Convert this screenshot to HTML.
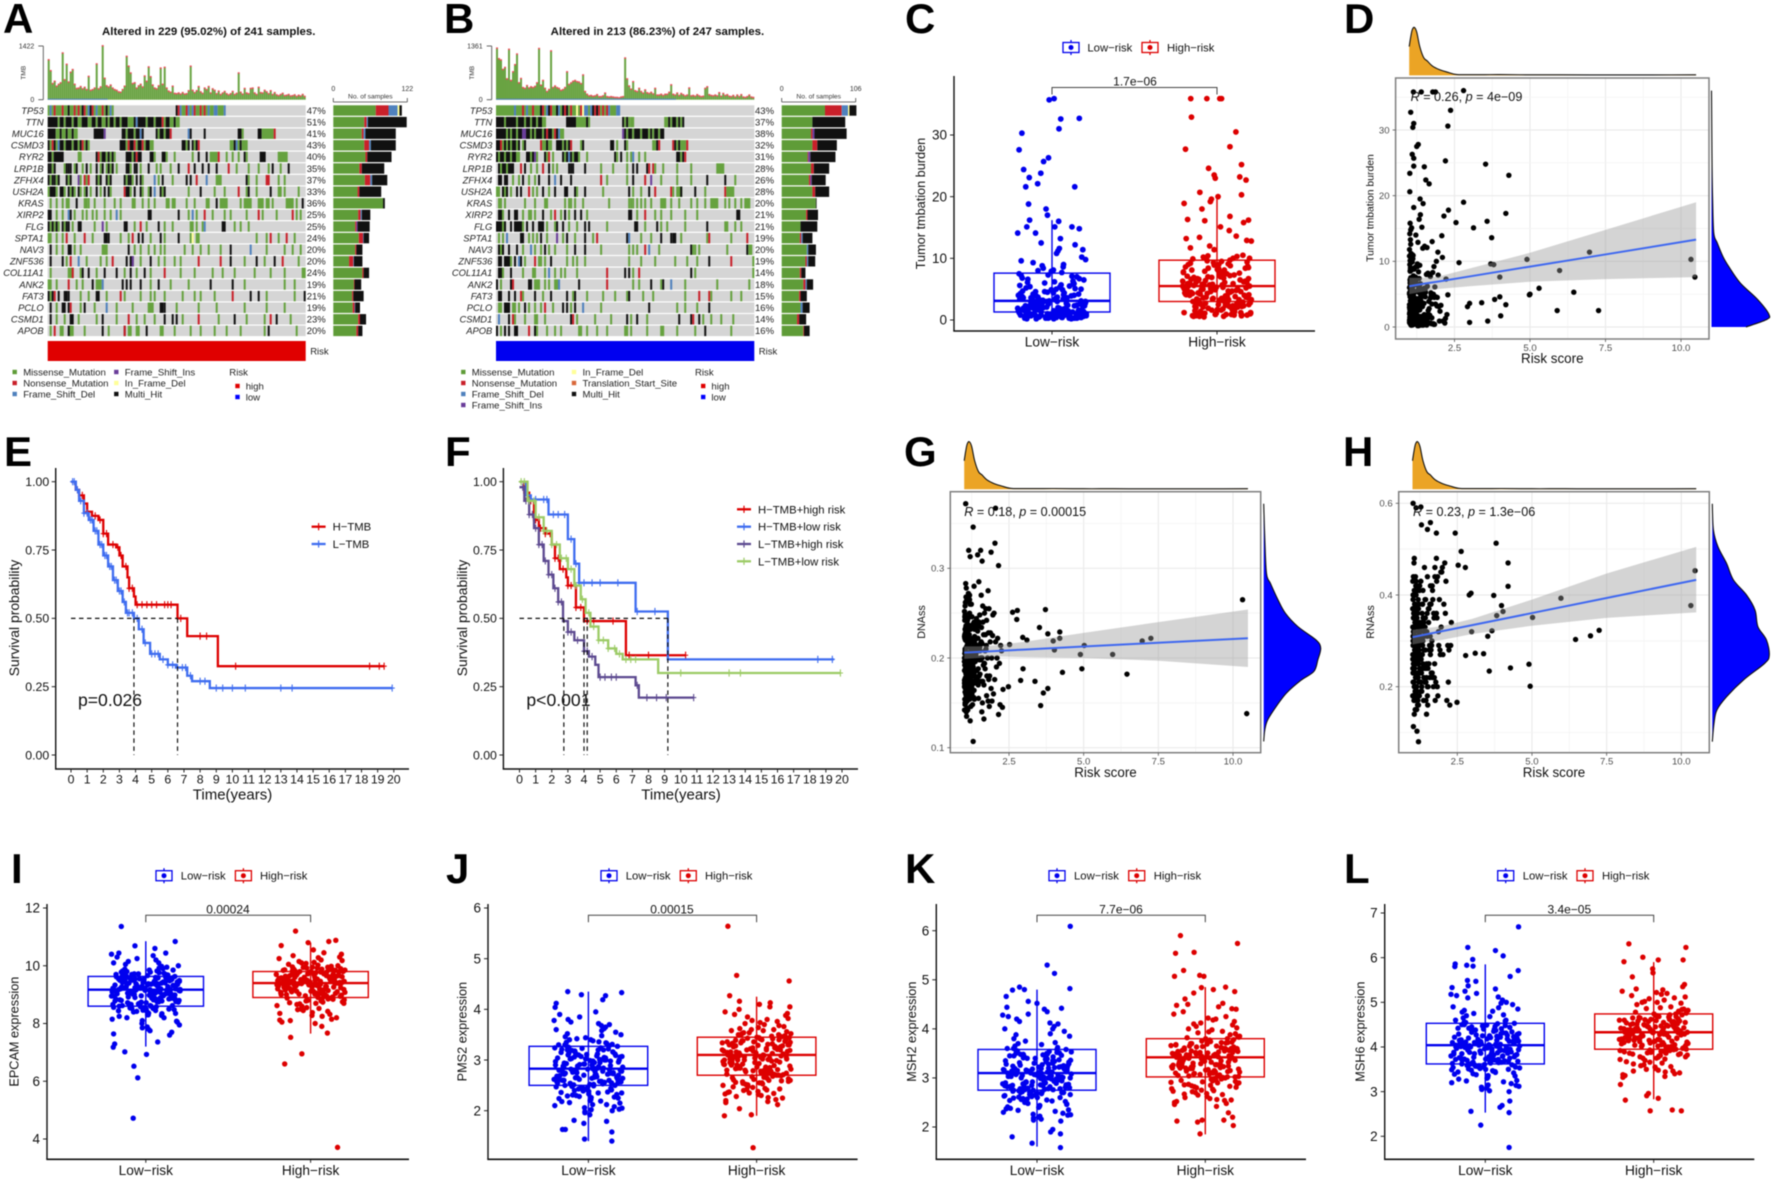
<!DOCTYPE html>
<html lang="en">
<head>
<meta charset="utf-8">
<title>Tumor mutation burden and risk score figure</title>
<style>
html,body{margin:0;padding:0;background:#fff;}
body{width:1772px;height:1180px;overflow:hidden;}
svg{display:block;font-family:"Liberation Sans",sans-serif;filter:blur(.45px);}
.letter{font-weight:bold;font-size:42px;fill:#000;}
.onco-title{font-weight:bold;font-size:10.8px;fill:#111;}
</style>
</head>
<body>
<svg id="figure" xmlns="http://www.w3.org/2000/svg" width="1772" height="1180" viewBox="0 0 1772 1180">
<rect x="0" y="0" width="1772" height="1180" fill="#fff"/>
<text class="letter" x="3" y="33">A</text>
<text class="letter" x="444" y="33">B</text>
<text class="letter" x="905" y="33">C</text>
<text class="letter" x="1344" y="33">D</text>
<text class="letter" x="4" y="466">E</text>
<text class="letter" x="445" y="466">F</text>
<text class="letter" x="904" y="466">G</text>
<text class="letter" x="1343" y="466">H</text>
<text class="letter" x="11" y="883">I</text>
<text class="letter" x="446" y="883">J</text>
<text class="letter" x="905" y="883">K</text>
<text class="letter" x="1344" y="883">L</text>
<text class="onco-title" x="102" y="35" textLength="213.5" lengthAdjust="spacingAndGlyphs">Altered in 229 (95.02%) of 241 samples.</text>
<text class="onco-title" x="550.7" y="35" textLength="213.5" lengthAdjust="spacingAndGlyphs">Altered in 213 (86.23%) of 247 samples.</text>
</svg>
<script>
/* ---------- oncoplot data ---------- */
const geneNamesA=["TP53","TTN","MUC16","CSMD3","RYR2","LRP1B","ZFHX4","USH2A","KRAS","XIRP2","FLG","SPTA1","NAV3","ZNF536","COL11A1","ANK2","FAT3","PCLO","CSMD1","APOB"];
const genePercentA=[47,51,41,43,40,35,37,33,36,25,25,24,20,20,24,19,21,19,23,20];
const genePercentB=[43,37,38,32,31,28,26,28,20,21,21,19,20,19,14,18,15,16,14,16];
const sideCountsA=[[70,21,15,0,3,4],[51,4,2,0,0,64],[47,3,3,0,0,50],[51,8,3,0,0,41],[53,3,0,0,0,40],[43,4,0,0,0,37],[52,9,3,0,0,25],[40,3,0,0,0,36],[82,0,0,0,0,3],[41,4,2,0,0,14],[36,2,0,2,0,20],[42,7,1,0,0,9],[36,2,0,0,0,10],[26,7,1,0,0,14],[48,2,0,0,0,9],[34,1,0,0,0,11],[31,2,0,0,0,17],[32,3,1,0,0,8],[41,3,0,0,0,10],[38,3,0,0,0,7]];
const sideCountsB=[[62,24,9,0,2,10],[44,0,0,0,0,47],[42,2,0,3,0,46],[44,7,0,0,0,28],[37,1,0,3,0,36],[42,4,0,0,0,22],[39,2,0,2,0,20],[44,4,0,0,0,20],[49,0,0,0,0,1],[35,2,0,0,0,15],[27,0,0,0,0,24],[26,2,2,0,0,14],[36,0,2,0,0,11],[34,2,2,0,0,10],[26,2,0,0,0,6],[31,3,2,0,0,9],[25,2,0,0,0,9],[27,0,3,0,0,10],[22,3,0,0,0,10],[31,1,0,0,0,8]];
const tmbA=[1050,760,420,480,350,400,440,1230,520,930,460,720,790,400,290,300,340,280,320,260,610,240,260,300,940,280,330,1420,560,360,330,380,300,260,240,200,190,260,350,1140,880,700,420,440,300,360,400,330,620,480,860,600,380,300,280,360,830,400,850,300,220,190,350,160,150,170,140,180,140,150,230,880,240,180,230,340,200,160,300,260,340,170,280,240,150,220,130,170,210,150,120,150,210,130,160,700,190,140,290,170,150,290,300,170,130,320,180,170,240,200,150,230,130,180,120,100,130,160,100,110,130,90,100,120,80,110,90,130,80];
const tmbB=[1300,1030,1000,760,810,520,1270,480,700,880,1150,420,530,300,280,350,290,320,300,330,420,1290,360,480,280,200,250,1230,300,340,300,280,230,250,300,700,380,420,460,480,450,440,400,620,200,130,90,100,80,90,120,70,70,90,160,70,60,70,60,50,50,40,60,70,1050,520,340,260,450,220,200,280,200,160,240,170,150,180,140,280,110,110,130,100,130,130,180,370,130,110,160,100,150,120,90,110,290,90,100,80,120,90,70,80,280,320,120,100,90,110,90,170,80,150,100,120,80,70,100,60,110,70,120,60,50,70,110,60,50];
/* mutation rows: run-length rows (letter = class, number = run of sample columns, "." = none), or "@" rows listing class + start column (":width" optional) */
const mutationRowsA=[
"m1f1m1n1m3n1m2x1m2n1m1n1m1x1n1m1f1x1n1m1f1m2n1m1x1m1f1m1.31x1n1f1m2n1f1m1f1n1m2n1m1n1m1f1m2f2m3f1",
"x5m1x2m1x3m1x2m2x3m2x2m1x2m2x1m1x2m1x2m1x3m3x1f1x4m1x3m1x3n1m1x2m2x1m2",
"x4m2x1m2x1m2x1m2.8x5i1.8x2m1x3m1x2f1x1.6x1m1x2m1x2n1.8f1x1.6x1.16x2m1.7x2m6n1",
"x1m1n1x1m1f1x2m1x3m1x2m1x1n1m1x1m1.15x3m1n1x2n1m1x2n1m1x2m2.14x2m1x1.1x1m1x1n1.15m2x1f1m1x1m3",
"x2m1x5.7m2.7x1n1m1x2m1x1m1x1m1.5x3m1x1n1x2.4x2m1.3x2m1.3m1.1.7m1.2x1.3x1.1m4n1.3m1.2m1.2m1.2x1m1.6x3.6m5",
"@x0 x1 m2 x3 m8 x9 x10 x11 m13 x14 m17 x19 m21 x24 m26 x27 m29 x30 m31 x32 m34 x39:2 m41 x43 x44 m46 x50 m54 m56 m61 x65 n70 x73 x77 x80 x84 n90 m94 m100 m105 m110 x112 m116 x120",
"@x0 m1 x2 x3 m4 x5 x9 m10 x11 i15 m16 n18 m19 n20 x24 m25 x26 x29 m30 x31 x38 m39 x40 x41 m42 x44 x46 m47 f53 m55 x57 m62 x69 x71 n74 f79 m84:3 x99 m100 m104 n109:2 m115 m118",
"@m0 x1:3 m4 x6:2 m8 x10 m11 x12 m13 x15 m16 m18 x19 m21 x24 m26 x28 x30 m31 n38 x39:2 m41 x43 x46 m47 m50 x51 f53 x56 m57 x58 m70 x76 m83 m88 n95 m99 x100 m104 x111 m115:2 m118 m125",
"@m1 m4 m7 m9:2 x14 m18:2 m20 m23 m28 m33 m36 m42:2 m47 m50 m53 m59:2 m62:2 m69 m73 m79:2 x84 m86:4 m96 m98:4 m105:3 m109:2 m112 m119:4 m124 x127",
"@x0:2 m4 m7 f10 x11 m13 m17 m19 m22 m24 m28 m31 f34 m36 x50:2 x65 m70 f72 m74 n78 m82 m88 m91 m99 n105 m107 m114 n122 m124 m126",
"@x0 m1 x2 m3 x4 m5 x7 m8 x9 x10 m12 x15:2 m23 i27 m29 x38:2 m43 n46 m49 x55 m58 m62 m71:2 m74 m77 f78 x87:2 m93 m96 m100",
"@m0:2 m4 m7 n9 m13 n18 m22 x28:2 x30 m36 m40 n42 x45 x47 m51 x56 m58 x65 m71 y72 m74:2 m104 m109 n111 m115 n119 m123",
"@x1 m4 m7 x10:2 m13 m16 m27:3 x40 m43 m46 m50 m53 m56 m58 m68 m72 m76 m80 m86 x91 f101 m109 m118 m122 m126",
"@x1 x7 m9 n11 f15 m19 m26 m29 n32 x39 x41:2 i42 m46 x51 m55 m58 m63 m66 n75 n86 x91 m98 x104 m108 x113 n117 m125",
"@m1 m10:3 n12 m16 x17 x20 m24 x28 x34 m38 x41 m44 x48 m51 n58 m66 m73 m82 m87 m93 m103 m111 m118 m127:2",
"@m0:2 m4 n10 m14 m17 x22 m24:3 f27 x37 x39 x41 x46 m51 x55 m61 m70 x81 x92 m98 m118 m123",
"@x0 m1 x2 n3 x5 x8:2 x10 m16 m20 x24:2 m29 n36 m38 m46 m51 m53 m58 m67 m73 m76 m83 n92 x101 x105 m109 m123 x128",
"@x1 m4 x7:2 x10 n11 m16 x18 m23 f29 m34 m42 m50:3 x56:2 x58 m64 m75 m84 m98 m109 m118",
"@x1 m4 m8 x11:2 m15 m24 x27 m34 n40 m44 m48 m53 x58 x62 x64 m67 n75 m85 x93 m99 m108 n111 x114 m121",
"@m1 n3 m6:2 x10:2 m11:2 m18 x27 m30 x38 n38 m40:2 m44:2 x49 m56:2 m63 m71 m76 m83 m89 m96 m108 x110 m124"];
const mutationRowsB=[
"m9f1m3n1m1f1m2n1m3x1n1m1f1x1n1m2x1f1m1x1n1x1m1n1m2y1m1n1y1f2m1f1x1n1x1n1m1n1m1n1f1m3f2",
"x4m1x5m1x3m1x2m1x2m1x2m2.10x5m5x1m1.16x1m1x1m1m2.15m2x1m1x2m1x1m1x1",
"x5m1x1m1x2m1x2i2x2m1x1m1x3m1x1n1x2m1n1x1f1m2.29i1x1m1x2m1x3m1x3m1x1m1x2m1x2",
"x2n1m1x1m1x1m1x2m1x1.1m1x1.7n1m2x1m2.2x3m1x1m1x1n1.1.3m1x1.13x2.1m1.3x1m1.12m2x1n1.6n1x1m1x1m3n1",
"x1m1x2m1x2m1x2m2.3x2m1x1i1m1.3x1m1n1.1m1.4x1m1x1f1x1m1x2m1.3m1.13x1m1.1x1.2m1.1m1f1.2m1.2m1.15x2m1x1n1",
"@x1 m2 x3 x4 m5 x6 x7 x8 n12 x14 m17 m20 n23 x26 m28 m30 x36 x37 x38 x44 m52 m58 m65 x68 x70 x75 n76 n78 m79 m83 m90 m97 m110:4",
"@x1 x2 x4 x5 m8 m11 x13 m16 m19 x21 x26 f29 x32 x37 n52 m55 m65 x68 n74 i77 m82 m90 m97 x105 x114 m119",
"@m0 m1 x3 m4 x5 m7 x10 x12 n16 m18 m20 x23 m26 x29 x34:2 x39 m40 x44 m53 x66 m68 m72 x76 n79 n87 m88 m90:3 x92 x99 m104 n114 m115:4",
"@m1 m2 m4 m14 m19 m24:2 m34 m36 m37 m39 m43 m56 m66 m67 m68 m70 m72 m74 m77 m82:3 m87 m91 m97 m100 m104 m107:4 m114 m116 m119 m122 m124:3",
"@x1:2 m3 x6 x9 x10 m13 m16:2 m19 x23 m27 n29 m32 x34 m36 x39 x42 m45 x66:2 m70 n74 m79 m82 m87 m94 m100 x120:2",
"@x0:3 m3 x4 x7 x9:4 m13 x15 x18 x21:3 m25 m29 x30 x33 m36 m40 x44 x46 m55 x69:2 m74 x80 m82 m85 m94 x105 m114:2 m119 m122",
"@m1 m3 f5 x12:2 m16 m18 m20 x22 m25 i30 m33 x35 m39 x44 m48 n50 x65 f66 m72 m77 x82 x87 x88:2 m92 m105 n106 m117 n125",
"@x1 m2 x3 x6 x10 m13 f17 m19 m22 x24 m26 m29 m35 x39 x44 m52 m66 m68 m70 n74 f76 m81 x97 m98 m99 m101 m115 x125 m126:2",
"@x1 x2 x4:3 m7 x9 f11 x12 m14 n19 m21 m22 m24 x27 m35 m38 m40 m44 m66 m72 m79 m89 m95 m100 x106 n117 m128",
"@x1:2 m3 x7 m13 m18:2 m24 f26 m29 m32 m34 m40 n55 x64 x66 m68 n71 x97 m99 m128",
"@x0 m2 x7 n8 x16 x17 m19:3 m24 m26 m29:2 f31 x41 n55 m68 m71 x77 m82 x83 f87 m94 m110 m126",
"@x1:2 x6 x9 n12 m13 x19 m23 x27 x35 m38 x39 m45 m53 m59 m65 x66 m73 m78 m94 n101 n106 m107 m117 m122",
"@m1 m2 x4:3 m8:2 m11 x14 m16 m19 m22 n24 m28 x33 x35 m37 x39 f43 m52 x76 m90 m94 m100 x106",
"@f1 x6 n8 m9 m14 m19:2 m24 x37 n38 m40 m49 m57 x65 m67 x70 m75 x91 x97 n98 x101 m103 m107 m112 m118",
"@x0 m2 x4 x6 x9:2 n16 x19 m20 m25 m29 m32 m41:2 m45 m50 m55 m64:2 m67 m75 m82:2 m90 m99 x104 m117"];

/* ---------- box + jitter data ---------- */
const jitterFractions=[.12,-.67,.83,-.31,.45,-.92,.05,.71,-.54,.28,-.13,.96,-.78,.37,.6,-.42,-.05,.88,-.25,.52,-.85,.19,.66,-.6,-.1,.33,.93,-.47,-.72,.08,.57,-.98,.24,-.35,.78,.41,-.18,-.82,.63,.01,-.56,.9,.3,-.28,-.7,.49,.15,-.94,.74,-.39,.22,-.63,.85,-.08,.55,-.5,-.21,.98,-.76,.35,.1,-.88,.68,-.33,.46,-.02,-.58,.81,.26,-.45,-.96,.59,.17,-.69,.38,-.15,.91,-.52,.04,.7,-.84,.29,-.26,.5,-.74,.13,.64,-.4,.86,-.11,-.6,.43,-.9,.21,.76,-.37,.07,.95,-.66,.32,-.48];
const cLowValues=[.5,1.2,3.1,.8,2.4,5.6,1.5,.3,4.2,7.7,1,2.9,.6,3.4,6.3,1.7,.9,2.2,8.4,.4,3.8,1.3,5.1,.7,2.6,9,1.1,4.6,.2,3.3,7.1,1.9,.8,2.8,6.7,1.4,.5,3.6,5.9,1,2,.6,4.9,8.8,1.6,.3,3,7.5,1.2,2.5,.9,5.4,10.2,.4,3.9,1.8,6,.7,2.3,4.4,1.1,9.6,.5,3.2,1.5,7.9,.8,2.7,5.7,.2,4,1.3,11.2,.6,3.5,2.1,6.5,1,8.1,.4,4.7,1.7,2.9,.9,5.2,10.8,.3,3.7,1.2,7.3,.7,2.4,4.3,11.6,1.6,.5,6.2,3,1.9,8.6,.8,5,2.2,.4,12.5,1.4,3.4,.6,7,2.6,1,4.5,9.8,.3,1.8,5.8,3.1,.9,11.4,2,.5,6.8,1.3,12.2,3.6,.7,4.1,2.3,14.1,15.1,15.1,15.1,14.1,13.2,.6,1.1,2.7,.3,1.9,4,.8,3.3,1.4,.5,2.2,6.1,.9,3.7,1.2,.4,2.9,5.3,.7,1.6,3.1,.2,2.4,4.6,1,.6,1.8,3.5,7.2,.4,2.1,1.3,4.9,.8,2.6,.5,3.9,1.5,.3,2,6.6,1.1,3,.7,2.5,4.4,.9,1.7,.4,3.2,5.5,1.2,.6,2.3,8,1.4,.3,2.8,3.6,.8,1.9,4.2,.5,1,2.7,.7,3.4,1.6,.4,2.1,5,1.3,.9,3.8,.2,2.4,9.3,1.1,.6,3,1.5,.8];
const cLowOutliers=[[-.08,35.7],[.06,35.9],[.25,32.6],[.78,32.7],[.2,31],[-.86,30.3],[-.94,27.6],[-.1,26.3],[-.24,25.7],[-.81,24.4],[-.32,23.8],[-.65,23.1],[-.41,22.1],[-.75,21.6],[.65,21.6],[-.67,18.8],[-.17,18],[-.13,17],[-.64,16.2],[.19,16],[.78,14.8]];
const cHighValues=[5.5,3.1,8.2,1,6.7,2.4,9.6,4.3,.8,7.4,5.1,2.9,10.2,3.6,1.5,6.1,8.9,4.8,.6,5.7,3.3,9.2,2.2,7,4.1,1.2,6.4,10,5.3,2.7,8.4,3.9,.9,7.8,5,1.8,9.9,4.5,6.9,2.5,3.2,8,.7,5.9,4,10.4,1.4,6.6,3.5,7.6,2.1,9.4,5.2,1,4.7,8.6,3,6.2,.5,7.2,2.8,5.6,9.1,4.2,1.6,6.8,3.7,10.1,2.3,5.4,8.3,.8,4.4,7.5,3.4,1.1,6,9.7,2.6,5.8,4.9,8.7,1.9,3.8,7.1,.6,6.5,2,9.3,4.6,5.5,1.3,8.1,3.1,10.3,6.3,2.4,7.9,4,.9,5.1,9,3.3,1.7,6.7,8.5,2.9,4.3,.7,7.3,5.7,1.2,10.5,3.6,6.1,2.2,12.9,11.4,13.6,13.4,12,12.8,11.7,14.5,15.1,13.2,4.6,2.7,5.9,1.1,3.4,6.3,.9,4.9,7.7,2.1,5.3,3,8.8,1.6,4.1,6.6,2.5,.7,5.6,3.8,7,1.3,4.5,9.5,2.9,5,.8,3.5,6.1,1.8,4.2,8.1,2.3,5.7,3.2,1,6.9,4.7,2.6,7.4,.6,5.2,3.7,1.5,4.4,9,2.2,6.4,3.1,5.8,1.2,4,7.2,2.8,5.4,.9,3.6,8.4,1.9,4.8,6.8,2.4,.7,5.1,3.3,10,1.4,4.3,7.8,2.7,5.5,3.9,1.1,6.2,2,4.6];
const cHighOutliers=[[-.75,35.9],[-.29,35.9],[.08,35.9],[.13,35.9],[-.73,32.9],[.54,30.5],[-.9,27.7],[.37,28.1],[.7,25.2],[-.24,24.6],[-.08,23.5],[.65,23.2],[.83,22.7],[-.05,23],[.7,20.3],[-.49,20.7],[.03,20],[-.94,18.9],[-.19,19.2],[-.16,19.6],[-.43,18],[.37,16.8],[-.84,16.3],[-.35,16.1],[.9,16.2],[.76,15.8]];
const iLowValues=[9.17,8.62,9.63,8.9,9.4,10.1,8.3,9.05,9.8,8.45,9.25,7.95,9.55,8.75,9.95,9.1,8.55,9.35,10.25,8.2,9.7,9,8.85,9.5,8.1,9.3,10,8.65,9.2,7.8,9.6,8.95,9.45,8.4,9.85,9.08,8.7,10.3,9.28,8.5,9.65,8.05,9.12,9.38,8.8,9.9,8.6,9.22,7.7,9.52,8.92,9.75,8.35,9.42,9.02,10.15,8.68,9.18,8.25,9.58,8.98,9.33,7.6,9.72,8.78,9.15,10.05,8.48,9.48,9.06,8.15,9.68,8.88,9.26,9.92,8.58,9.36,8.72,7.88,9.56,9.1,10.2,8.42,9.44,8.82,9.78,9.04,8.52,9.3,8,9.62,9.2,8.94,10.35,8.62,9.5,8.3,9.14,9.82,8.76,9.4,7.75,9.66,8.86,9.24,9.98,8.56,9.34,9,8.2,9.6,8.96,9.46,8.44,10.1,9.16,8.66,9.54,8.08,9.28,9.74,8.84,9.08,8.5,9.88,7.85,9.38,8.74,9.58,9.22,8.36,9.7,10.4,8.9,9.12,9.32,8.88,9.55,9.03,9.68,8.72,9.27,9.44,8.58,9.16,9.78,8.98,9.36,8.66,9.52,9.07,8.82,9.6,9.2,8.46,9.41,8.92,9.72,9.13,8.6,9.3,9.85,8.78,9.48,9.01,8.34,9.22,9.64,8.86,9.37,8.54,9.1,9.56,8.94,9.26,9.76,8.7,9.43,9.05,8.4,9.18,9.62,8.84,9.33,8.96,9.5,8.62,9.09,9.7,8.76,9.29,9.46,8.9,9.15,8.52,9.58,9.02,9.38,8.8,9.24,9.82,8.68,9.12,9.42,8.99,9.54,8.28,9.2,9.66,8.87,9.35,9.06,8.74,9.49,9.17];
const iLowOutliers=[[-.7,11.36],[.84,10.84],[-.31,10.69],[.26,10.6],[-.77,10.44],[.57,10.44],[-.92,7.64],[-.89,7.29],[-.93,7.18],[.34,7.36],[-.6,7.02],[.02,6.93],[-.34,6.52],[-.23,6.12],[-.36,4.72]];
const iHighValues=[9.4,8.92,9.8,9.15,9.62,10.2,8.5,9.3,9.95,8.7,9.48,8.2,9.72,9,10.05,9.35,8.8,9.55,10.35,8.45,9.85,9.25,9.08,9.68,8.35,9.5,10.15,8.95,9.42,8.1,9.78,9.2,9.6,8.62,9.98,9.32,9,10.45,9.52,8.75,9.82,8.28,9.38,9.58,9.05,10.1,8.85,9.45,8,9.7,9.12,9.9,8.55,9.65,9.28,10.25,8.9,9.4,8.48,9.75,9.18,9.56,7.9,9.88,9.02,9.36,10.3,8.68,9.66,9.3,8.38,9.84,9.1,9.46,10.08,8.82,9.54,8.98,8.15,9.74,9.34,10.4,8.6,9.62,9.06,9.92,9.26,8.72,9.5,8.25,9.8,9.42,9.16,10.55,8.88,9.7,8.52,9.38,10,9,9.6,8.05,9.86,9.12,9.44,10.18,8.78,9.52,9.22,8.42,9.76,9.2,9.64,8.66,10.28,9.4,8.94,9.72,8.32,9.48,9.94,9.08,9.3,8.74,10.12,8.12,9.58,9.02,9.78,9.44,9.46,9.66,9.2,9.83,9.34,9.9,9.05,9.58,9.72,8.96,9.43,9.96,9.26,9.62,9,9.78,9.38,9.14,9.86,9.5,8.84,9.68,9.24,9.92,9.4,8.94,9.56,10.02,9.1,9.74,9.32,8.7,9.48,9.88,9.18,9.6,8.88,9.42,9.8,9.28,9.52,9.95,9.04,9.7,9.36,8.78,9.46,9.84,9.16,9.58,9.3,9.76,8.98,9.4,9.9,9.08,9.54,9.67,9.22,9.44,8.86,9.82,9.34,9.64,9.12,9.5];
const iHighOutliers=[[-.43,11.2],[-.07,10.8],[-.84,10.7],[.72,10.88],[.52,10.84],[-.57,7.52],[-.25,6.95],[-.74,6.6],[.77,3.71],[.48,7.67]];
const jLowValues=[2.83,2.5,3.27,2.65,3.05,3.6,2.2,2.75,3.4,2.35,2.92,2.05,3.15,2.58,3.7,2.8,2.42,3,3.85,2.12,3.3,2.7,2.55,3.2,1.98,2.95,3.5,2.48,2.88,2.02,3.22,2.62,3.08,2.3,3.55,2.78,2.45,3.9,2.98,2.38,3.25,2.15,2.85,3.1,2.6,3.65,2.52,2.9,2.08,3.18,2.68,3.35,2.25,3.02,2.72,3.75,2.46,2.86,2.18,3.24,2.64,3.04,2,3.42,2.56,2.82,3.8,2.32,3.12,2.76,2.1,3.28,2.66,2.94,3.58,2.44,3.06,2.54,1.92,3.16,2.8,3.72,2.28,3,2.6,3.38,2.74,2.4,2.96,2.06,3.26,2.84,2.68,3.95,2.5,3.14,2.22,2.78,3.46,2.58,3.03,2.12,3.3,2.63,2.88,3.62,2.47,2.99,2.73,2.16,3.2,2.7,3.07,2.36,3.68,2.81,2.51,3.11,2.03,2.91,3.33,2.61,2.77,2.41,3.52,1.96,3.01,2.57,3.19,2.87,2.26,3.29,3.78,2.67,2.79,3.09,2.53,3.23,2.69,2.89,2.33,3.13,2.59,3.36,2.43,2.85,3.04,2.49,2.97,2.27,3.17,2.71,2.93,2.56,3.44,2.37,2.82,3.07,2.64,3.21,2.19,2.9,2.55,3.31,2.75,3,2.46,3.1,2.66,2.84,2.31,3.24,2.6,2.95,2.72,3.48,2.39,2.8,3.02,2.52,3.16,2.24,2.87,2.62,3.34,2.77,2.98,2.44,3.06,2.7,2.92,2.29,3.2,2.57,2.83,3.12,2.65,3.4,2.35,2.74,3.01,2.5,2.86];
const jLowOutliers=[[-.59,4.35],[-.2,4.29],[.49,4.27],[.95,4.33],[.41,4.19],[-.92,4.12],[-.95,4.04],[-.66,1.63],[-.74,1.63],[-.11,1.44],[.67,1.4],[.67,1.58],[.52,1.79],[-.13,1.75],[-.41,1.81]];
const jHighValues=[3.1,2.7,3.45,2.9,3.3,3.8,2.42,3,3.6,2.55,3.18,2.25,3.38,2.8,3.9,3.05,2.62,3.25,4,2.35,3.52,2.95,2.75,3.42,2.2,3.2,3.72,2.68,3.14,2.28,3.48,2.86,3.34,2.5,3.76,3.02,2.65,4.05,3.22,2.58,3.5,2.38,3.08,3.36,2.82,3.85,2.72,3.16,2.3,3.4,2.92,3.56,2.46,3.28,2.98,3.95,2.66,3.12,2.4,3.44,2.88,3.26,2.18,3.62,2.78,3.06,3.88,2.52,3.32,3,2.32,3.46,2.84,3.2,3.78,2.6,3.3,2.76,2.12,3.38,3.04,3.92,2.48,3.24,2.8,3.58,2.96,2.56,3.18,2.26,3.44,3.1,2.9,4.1,2.7,3.34,2.44,3,3.66,2.78,3.22,2.36,3.5,2.86,3.12,3.82,2.64,3.2,2.94,2.34,3.4,2.92,3.28,2.54,3.7,3.06,2.74,3.36,2.22,3.14,3.54,2.82,3.02,2.6,3.74,2.16,3.26,2.8,3.42,3.08,3.16,3.37,2.73,3.5,2.97,3.21,2.53,3.33,2.85,3.6,2.63,3.07,3.29,2.69,3.15,2.41,3.43,2.89,3.11,2.75,3.68,2.57,3.02,3.24,2.83,3.47,2.33,3.09,2.71,3.54,2.93,3.19,2.61,3.31,2.87,3.05,2.47,3.4,2.77,3.13,2.91,3.64,2.59,3,3.23,2.67,3.35,2.37,3.04,2.81,3.52,2.95,3.17,2.51,3.27,2.72,3.1,2.43,3.39,2.79,3.01,3.3,2.84,3.58,2.55,2.99,3.2,2.68,3.06];
const jHighOutliers=[[-.82,5.64],[-.57,4.67],[.93,4.56],[-.77,4.27],[.39,4.13],[-.49,4.16],[-.1,1.27],[-.92,1.9],[-.15,1.92],[-.49,2.04],[.95,4.05]];
const kLowValues=[3.1,2.75,3.58,2.92,3.35,4,2.4,3.02,3.7,2.55,3.18,2.25,3.45,2.82,4.1,3.05,2.65,3.25,4.3,2.32,3.6,2.95,2.78,3.5,2.18,3.2,3.85,2.7,3.14,2.22,3.52,2.88,3.38,2.5,3.95,3.04,2.68,4.25,3.22,2.6,3.55,2.35,3.12,3.4,2.85,4.05,2.72,3.16,2.28,3.48,2.9,3.65,2.46,3.3,2.98,4.15,2.66,3.08,2.38,3.54,2.86,3.28,2.12,3.75,2.76,3.06,4.2,2.52,3.42,3,2.3,3.62,2.84,3.24,3.9,2.62,3.32,2.74,2.2,3.46,3.1,4.35,2.48,3.34,2.8,3.68,2.96,2.58,3.2,2.26,3.56,3.12,2.9,4.4,2.7,3.44,2.42,3,3.8,2.78,3.26,2.16,3.6,2.86,3.16,4,2.64,3.22,2.94,2.34,3.5,2.92,3.36,2.54,4.12,3.06,2.72,3.4,2.24,3.14,3.72,2.82,3.02,2.6,3.88,2.14,3.28,2.8,3.48,3.08,2.44,3.58,4.28,2.9,2.76,3.18,2.98,3.1,3.03,3.37,2.69,3.15,2.87,3.49,2.57,3.11,2.93,3.27,2.63,3.01,3.41,2.77,3.19,2.47,3.07,2.89,3.31,2.71,3.53,2.83,3.13,2.99,2.37,3.23,2.91,3.43,2.67,3.09,2.81,3.33,2.56,3.17,2.97,3.47,2.73,3.05,2.85,3.29,2.61,3.11,2.95,2.41,3.39,2.79,3.21,3.03,2.68,3.51,2.88,3.15,2.75,3.07,2.53,3.35,2.93,3.25,2.83,3.09,2.66,3.45,3,2.78,3.19,2.59,3.13,2.91,3.3,2.84,3.04,2.7];
const kLowOutliers=[[.95,6.09],[.29,5.3],[.5,5.13],[.94,4.82],[-.5,4.85],[-.7,4.79],[-.36,4.8],[-.88,4.66],[-.86,4.44],[-.71,1.8],[-.14,1.67],[.67,1.58],[.67,1.86],[.45,1.95],[.39,1.9],[.7,4.42],[-.25,4.56],[0,4.52]];
const kHighValues=[3.42,3.02,3.8,3.2,3.6,4.2,2.7,3.3,3.95,2.85,3.5,2.55,3.7,3.1,4.35,3.36,2.92,3.55,4.5,2.65,3.85,3.25,3.05,3.75,2.5,3.45,4.1,2.98,3.4,2.6,3.78,3.15,3.65,2.78,4.25,3.32,2.95,4.45,3.52,2.88,3.82,2.68,3.38,3.68,3.12,4.05,3,3.46,2.58,3.72,3.22,3.9,2.75,3.58,3.28,4.3,2.94,3.42,2.72,3.76,3.18,3.56,2.42,4,3.08,3.34,4.15,2.82,3.62,3.26,2.62,3.88,3.14,3.48,4.12,2.9,3.54,3.04,2.48,3.7,3.38,4.4,2.8,3.6,3.1,3.98,3.24,2.86,3.44,2.56,3.84,3.4,3.2,4.22,3,3.66,2.74,3.3,4.08,3.06,3.5,2.52,3.8,3.16,3.42,4.02,2.96,3.52,3.22,2.66,3.74,3.2,3.6,2.84,4.18,3.36,3.02,3.64,2.54,3.44,3.92,3.12,3.28,2.9,3.94,2.46,3.56,3.08,3.72,3.34,3.41,3.63,3.11,3.47,3.23,3.71,2.97,3.37,3.53,3.07,3.59,3.17,3.43,2.83,3.67,3.27,3.49,3.01,3.33,3.77,3.13,3.55,2.93,3.39,3.61,3.21,3.45,2.77,3.73,3.19,3.51,3.03,3.31,3.65,2.87,3.41,3.25,3.57,3.09,3.35,2.73,3.69,3.15,3.47,2.99,3.29,3.83,3.05,3.43,3.58,3.19,3.37,2.81,3.63,3.23,3.49,3.11,3.32,2.67,3.75,3.27,3.54,3.04,3.4,3.17,3.6,2.91,3.46,3.24,3.52];
const kHighOutliers=[[-.71,5.9],[.92,5.74],[-.85,5.54],[-.32,5.56],[-.62,5.19],[-.88,5.07],[-.16,5.09],[-.04,5.07],[-.11,4.84],[.58,4.85],[.84,4.76],[-.33,4.73],[.23,4.8],[-.58,4.61],[-.82,4.48],[.5,4.52],[.76,4.41],[-.15,1.86],[-.81,2.12],[-.22,2.1],[-.09,2.14],[.53,2.14],[.8,2.03],[.78,2.2],[.66,2.29]];
const lLowValues=[4.04,3.62,4.53,3.85,4.3,4.9,3.3,3.95,4.7,3.45,4.12,3.12,4.42,3.72,5,4,3.55,4.2,5.2,3.22,4.6,3.9,3.68,4.5,3.05,4.15,4.85,3.6,4.08,3.15,4.48,3.8,4.35,3.4,4.95,3.98,3.58,5.15,4.18,3.5,4.55,3.25,4.06,4.38,3.75,5.05,3.64,4.1,3.18,4.45,3.82,4.65,3.35,4.25,3.92,5.1,3.56,4.02,3.28,4.52,3.78,4.22,3,4.75,3.66,3.96,5.25,3.42,4.4,3.88,3.2,4.6,3.74,4.16,4.88,3.52,4.28,3.7,3.08,4.44,4.04,5.3,3.38,4.32,3.76,4.68,3.86,3.48,4.14,3.1,4.56,4.06,3.84,4.8,3.6,4.36,3.32,3.94,4.78,3.7,4.2,3.02,4.5,3.78,4.1,4.98,3.54,4.18,3.9,3.24,4.46,3.86,4.3,3.44,5.12,4,3.62,4.4,3.14,4.08,4.72,3.72,3.96,3.5,4.82,3.06,4.24,3.68,4.42,4.02,3.36,4.58,5.18,3.82,3.66,4.12,3.92,4.04,3.97,4.26,3.73,4.11,3.83,4.37,3.57,4.01,3.79,4.21,3.63,3.89,4.33,3.46,4.07,3.81,4.47,3.69,3.93,4.17,3.53,4.29,3.87,4.05,3.39,4.13,3.77,4.41,3.61,3.99,4.23,3.71,4.03,3.49,4.31,3.84,4.09,3.65,3.91,4.19,3.59,4.49,3.75,4,3.43,4.27,3.8,4.15,3.67,3.95,4.39,3.55,4.07,3.73,4.22,3.88,3.47,4.34,3.64,3.98,4.13,3.7,4.02,3.51,4.25,3.85,4.1,3.6,3.93];
const lLowOutliers=[[.95,6.69],[-.5,6.23],[.29,6.16],[.51,6.04],[-.36,5.96],[-.86,5.86],[-.87,5.8],[-.53,5.83],[-.35,5.81],[.94,5.71],[.71,5.58],[-.51,5.49],[-.27,5.47],[-.49,5.37],[-.95,5.33],[-.41,2.56],[.68,2.53],[-.13,2.25],[.68,1.75],[.42,2.65],[.48,2.69],[.7,2.79]];
const lHighValues=[4.33,3.95,4.74,4.15,4.55,5.05,3.6,4.25,4.9,3.8,4.42,3.42,4.65,4.05,5.15,4.3,3.88,4.48,5.3,3.5,4.82,4.2,4,4.7,3.38,4.4,5,3.92,4.35,3.46,4.72,4.1,4.58,3.72,5.1,4.28,3.86,5.2,4.45,3.78,4.78,3.55,4.32,4.6,4.06,5.02,3.98,4.38,3.48,4.68,4.12,4.85,3.66,4.52,4.22,5.25,3.9,4.36,3.58,4.7,4.08,4.5,3.34,4.95,4.02,4.28,5.35,3.75,4.62,4.18,3.52,4.8,4.04,4.42,5.08,3.82,4.54,3.96,3.4,4.66,4.34,5.4,3.7,4.56,4.1,4.88,4.2,3.84,4.4,3.44,4.76,4.36,4.14,5.22,3.94,4.6,3.64,4.26,4.98,4,4.46,3.36,4.74,4.12,4.38,5.12,3.9,4.5,4.18,3.56,4.68,4.16,4.58,3.78,5.18,4.3,3.98,4.62,3.46,4.4,4.86,4.08,4.24,3.86,5,3.32,4.52,4.04,4.72,4.32,3.62,4.84,5.28,4.2,3.92,4.44,4.16,4.33,4.27,4.57,4.03,4.41,4.13,4.63,3.89,4.29,4.49,4.01,4.37,3.77,4.53,4.19,4.43,3.93,4.31,4.67,4.09,4.47,3.85,4.23,4.59,4.11,4.35,3.73,4.51,4.17,4.39,3.97,4.25,4.71,4.07,4.45,3.83,4.21,4.55,4.15,4.33,3.67,4.49,4.05,4.37,3.91,4.29,4.61,4.13,4.41,3.81,4.19,4.65,4.09,4.31,3.95,4.43,4.23,3.75,4.57,4.17,4.35,4.01,4.27,4.47,3.87,4.21,4.39];
const lHighOutliers=[[-.71,6.31],[.92,6.23],[-.31,6.01],[.13,5.95],[.84,5.95],[-.85,5.91],[-.03,5.75],[-.02,5.66],[-.61,5.57],[-.1,2.57],[.53,2.59],[.79,2.57],[-.81,2.81],[.13,2.85],[-.95,3.16],[-.15,2.96],[-.2,2.91]];
/* box statistics: lower whisker, Q1, median, Q3, upper whisker */
const cLowBox=[0,1.3,3.1,7.6,16.2];
const cHighBox=[.5,3,5.5,9.7,19.6];
const iLowBox=[7.2,8.6,9.17,9.63,10.85];
const iHighBox=[7.65,8.9,9.4,9.8,10.8];
const jLowBox=[1.4,2.5,2.83,3.27,4.35];
const jHighBox=[1.9,2.7,3.1,3.45,4.25];
const kLowBox=[1.6,2.75,3.1,3.58,4.8];
const kHighBox=[1.85,3.02,3.42,3.8,4.85];
const lLowBox=[2.53,3.62,4.04,4.53,5.85];
const lHighBox=[2.83,3.95,4.33,4.74,5.9];
const boxCategories=["Low\u2212risk","High\u2212risk"];
const cTicks=[0,10,20,30];
const iTicks=[4,6,8,10,12];
const jTicks=[2,3,4,5,6];
const kTicks=[2,3,4,5,6];
const lTicks=[2,3,4,5,6,7];

/* ---------- scatter data ---------- */
const clusterRisk=[1.02,1.35,1.1,1.72,1.05,1.22,2.05,1.15,1.48,1.03,1.3,1.88,1.08,1.18,1.6,1.01,1.42,2.2,1.12,1.27,1.04,1.55,1.2,1.95,1.07,1.38,1.14,1.68,1.02,1.25,2.12,1.1,1.5,1.06,1.33,1.8,1.16,1.03,1.45,1.23,2.28,1.09,1.62,1.01,1.36,1.19,1.75,1.05,1.28,1.13,1.92,1.04,1.52,1.21,1.08,1.4,2.02,1.11,1.31,1.02,1.65,1.17,1.06,1.47,1.24,2.18,1.03,1.34,1.85,1.1,1.2,1.58,1.01,1.29,1.15,1.7,1.07,1.43,2.25,1.12,1.05,1.37,1.98,1.26,1.09,1.54,1.02,1.18,1.78,1.32,1.04,1.14,2.08,1.49,1.08,1.22,1.63,1.01,1.39,1.11,1.83,1.06,1.27,1.16,2.15,1.03,1.44,1.2,1.57,1.1,1.73,1.05,1.3,1.13,1.9,1.02,1.35,1.24,1.51,1.07,2.22,1.17,1.41,1.04,1.66,1.28,1.09,1.82,1.01,1.33,1.19,1.46,1.12,2,1.06,1.25,1.6,1.03,1.38,1.15,1.76,1.08,1.53,1.21,1.05,1.31,2.1,1.1,1.02,1.42,1.87,1.26,1.14,1.67,1.04,1.36,1.18,1.5,1.07,1.96,1.23,1.01,1.29,1.59,1.11,1.06,1.74,1.34,1.03,1.16,2.3,1.45,1.09,1.22,1.8,1.02,1.4,1.13,1.64,1.05,1.28,1.2,1.55,1.08,1.03,1.19,1.33,1.06,1.47,1.12,1.26,1.01,1.61,1.09,1.38,1.15,1.04,1.23,1.52,1.07,1.71,1.3,1.02,1.17,1.44,1.1,1.36,1.05,1.84,1.21,1.03,1.56,1.13,1.27,1.08,1.41,1.01,1.18,1.66,1.06,1.32,1.11,1.24,1.49,1.04,1.15,1.93,1.02,1.37,1.09,1.2,1.58,1.05,1.29,1.14,1.43,1.07,1.75,1.03,1.25,1.17,1.53,1.01,1.34,1.1,1.68,1.06,1.22,1.4,1.12,1.04,1.47,1.28,1.08,1.19,1.62,1.02,1.31,1.16,1.81,1.05,1.38,1.11,1.24,1.03,1.5,1.07,1.2,1.35,1.13,1.01,1.57,1.27,1.09,1.44,1.04,1.18,1.7,1.06,1.33,1.15,1.23,1.02,1.42,1.1,1.3,1.54,1.05,1.14,1.21,1.64,1.08,1.37,1.03,1.26,1.48,1.12,1.01,1.19,1.77,1.07,1.32,1.16,1.04,1.4,1.22,1.1];
const dClusterY=[2.1,9.4,.8,5.2,12.6,1.5,3.3,18.2,.4,7.1,2.8,4.6,15.1,1,6.2,10.8,3.7,1.3,8.9,.6,5.5,22.4,2.3,11.4,.3,4.1,7.8,1.8,14.2,3,.9,9.9,5.9,2.6,16.4,.5,6.8,1.2,12,3.5,4.9,.7,8.2,2,19.5,4.4,1.4,10.2,.2,6.5,3.2,13.3,1.7,7.4,.8,5,2.4,11,.4,20.6,3.9,1.1,8.6,5.7,2.9,.6,15.8,1.6,6.1,4.2,9.1,.3,3.4,12.9,2.2,7.7,.9,4.7,1.9,10.4,.5,17.1,3.1,6.4,1.3,5.3,23.4,2.7,8.3,.7,4,1.5,13.9,3.6,.4,7,2.5,11.8,1,5.8,4.5,.8,9.6,2.1,16.9,6.7,3.3,1.2,8,.3,4.8,14.8,2.6,1.7,10,.6,6,3.8,12.3,1.4,7.3,.5,5.1,2,21.8,4.3,1.1,9.2,3,.7,6.6,18.8,2.4,.9,11.2,5.4,1.6,8.5,3.7,.4,13,2.8,4.6,1.3,7.5,.2,10.6,5.6,2.2,15.2,3.5,1.8,6.3,.6,9,4.1,1.2,24.4,2.9,7.9,.8,5.2,3.2,12.1,1.5,6.9,.5,4.4,2.3,8.8,17.8,1,3.9,14,5,2.7,.7,10.9,1.9,6,1.4,3.6,.5,2.2,7.2,.9,4.3,1.7,.3,5.6,2.9,.7,8.1,1.1,3.4,.4,6.3,2,1.5,4.7,.6,2.6,9.5,1.2,3.1,.8,5.1,1.9,.4,7.6,2.4,1,4.1,.5,3.7,1.6,6,.9,2.8,.3,5.3,1.3,3.3,.7,8.7,2.1,4.5,1.1,.6,3,6.7,1.8,.4,2.5,4.9,.8,1.4,3.5,10.1,.5,2.3,5.8,1,3.9,.7,1.7,7,2.7,.3,4.2,1.2,.9,3.2,5.5,2,.6,1.5,8.4,3.8,.4,2.4,1.1,6.4,.8,4.6,1.9,.5,3,2.6,.7,5,1.3,9.2,3.6,.3,2.2,1.6,4.4,.9,7.4,.6,2.9,1.2,3.4,.4,5.7,1.8,2.5,.8,4,1.4,.5,6.6,3.1];
const dOutX=[1.14,1.4,1.78,1.87,1.05,1.15,1.12,1.3,1.25,1.1,1.15,1.15,2.55,2.65,2.8,2.8,2.37,2.28,2.2,3,2.93,3,3.13,3.4,3.53,3.58,3.6,3.7,3.8,3.73,3.83,4,4,4.03,4.2,4.2,4.3,4.9,4.98,5,5.3,5.9,5.98,6.45,6.97,7.27,10.33,10.46];
const dOutY=[35.8,35.8,35.8,35.8,32.7,31,30.4,27.8,27.5,26.3,25.7,24.5,15.9,9.8,19,36,33,30.6,25.3,3.6,3.1,.7,15.1,3.7,24.8,16.1,.9,9.6,9.5,13.6,4.2,4.6,7.6,1.7,17.3,3.4,23.1,10.3,4.9,5,5.9,2.5,8.6,5.3,11.4,2.5,10.3,7.6];
const gClusterY=[.205,.232,.18,.255,.195,.17,.218,.245,.155,.21,.19,.228,.165,.27,.2,.175,.238,.148,.215,.185,.262,.198,.16,.225,.14,.208,.178,.25,.192,.168,.222,.152,.24,.202,.183,.275,.212,.162,.235,.188,.145,.196,.258,.172,.22,.206,.158,.283,.182,.23,.2,.166,.248,.19,.135,.214,.176,.242,.204,.154,.226,.186,.268,.17,.21,.194,.15,.236,.18,.218,.13,.2,.252,.164,.224,.188,.278,.174,.208,.142,.234,.196,.16,.246,.184,.216,.17,.265,.2,.156,.228,.178,.19,.285,.212,.146,.24,.168,.204,.182,.255,.192,.162,.22,.137,.232,.2,.175,.27,.186,.21,.15,.238,.194,.166,.226,.18,.26,.198,.158,.214,.172,.244,.188,.132,.206,.23,.176,.196,.28,.16,.222,.184,.25,.202,.17,.216,.148,.236,.19,.18,.264,.208,.164,.228,.174,.2,.144,.242,.186,.218,.16,.272,.194,.178,.234,.154,.21,.19,.248,.168,.224,.2,.14,.238,.182,.214,.172,.258,.196,.165,.23,.188,.205,.152,.246,.176,.22,.192,.162,.212,.26,.2,.178,.224,.19,.164,.236,.208,.172,.218,.186,.15,.23,.198,.168,.244,.182,.212,.158,.226,.194,.176,.204,.24,.166,.216,.188,.146,.232,.2,.174,.22,.184,.156,.21,.196,.25,.17,.228,.18,.206,.162,.238,.192,.214,.152,.222,.186,.202,.176,.234,.16,.198,.218,.172,.19,.242,.208,.166,.226,.182,.2,.154,.214,.194,.23,.178,.21,.168,.22,.188,.148,.204,.236,.174,.196,.216,.16,.228,.184,.206,.17,.192,.248,.18,.212,.164,.224,.2,.142,.218,.186,.232,.176,.198,.158,.208,.19,.24,.172,.222];
const gOutX=[1.05,2.05,1.3,2.03,1.15,1.55,1.9,1.45,1.2,1.6,2.15,1.3,2.62,2.78,2.76,2.96,3.1,2.97,2.89,3.37,3.52,3.72,3.8,3.56,3.65,3.8,3.98,4.02,4.2,4.2,4.29,4.89,4.94,5.02,5.97,6.45,6.96,7.25,10.32,10.46,2.48,2.52];
const gOutY=[.372,.367,.346,.328,.32,.32,.318,.315,.313,.308,.303,.107,.251,.253,.243,.223,.22,.188,.175,.174,.234,.254,.227,.147,.161,.166,.219,.209,.229,.222,.184,.204,.188,.214,.204,.182,.219,.222,.265,.138,.168,.215];
const hClusterY=[.3,.41,.22,.35,.47,.26,.38,.19,.32,.44,.24,.29,.36,.17,.42,.27,.33,.21,.4,.3,.25,.37,.16,.45,.28,.34,.2,.39,.31,.23,.43,.27,.18,.36,.3,.48,.25,.33,.21,.41,.29,.15,.38,.26,.35,.22,.44,.31,.19,.37,.28,.4,.24,.32,.17,.46,.27,.34,.2,.39,.3,.23,.36,.14,.42,.29,.25,.33,.18,.38,.31,.22,.43,.26,.35,.2,.4,.28,.16,.37,.3,.24,.45,.32,.19,.34,.27,.41,.21,.36,.29,.25,.47,.31,.18,.38,.23,.33,.28,.42,.2,.35,.26,.3,.17,.4,.24,.37,.29,.44,.22,.32,.27,.19,.39,.31,.25,.34,.16,.41,.28,.36,.21,.3,.23,.43,.26,.35,.18,.38,.29,.24,.33,.46,.2,.31,.27,.4,.22,.37,.17,.34,.25,.42,.3,.19,.36,.28,.23,.39,.32,.26,.15,.41,.21,.35,.29,.44,.24,.33,.18,.37,.27,.31,.2,.48,.25,.38,.3,.22,.34,.17,.4,.28,.36,.23,.32,.26,.29,.37,.21,.33,.25,.4,.18,.31,.27,.35,.22,.43,.3,.24,.38,.19,.28,.34,.26,.41,.2,.32,.36,.23,.29,.16,.39,.27,.31,.25,.44,.21,.35,.28,.18,.33,.3,.24,.37,.22,.42,.26,.34,.19,.29,.36,.23,.31,.27,.4,.17,.33,.25,.38,.21,.3,.28,.35,.2,.46,.24,.32,.26,.37,.18,.29,.34,.22,.41,.27,.31,.19,.36,.25,.3,.23,.39,.28,.21,.33,.26,.43,.17,.35,.29,.24,.32,.2,.38,.27,.3,.22];
const hOutX=[1.02,1.28,1.12,1.3,1.6,1.5,1.8,1.06,1.03,1.2,1.15,2.43,2.63,2.53,2.77,2.49,2.78,3.1,3.38,2.98,2.9,2.96,3.8,4.2,4.2,3.72,3.98,4.03,3.82,3.66,3.52,3.57,4.28,4.9,4.94,5.02,5.97,6.46,6.96,7.25,10.32,10.46];
const hOutY=[.6,.592,.59,.553,.558,.543,.535,.14,.113,.08,.103,.535,.495,.465,.46,.166,.268,.273,.272,.32,.4,.404,.513,.47,.419,.399,.377,.364,.355,.322,.31,.234,.241,.249,.201,.351,.393,.303,.311,.323,.377,.453];
const fitRisk=[1,1.5,2,3,5,7.5,10.5];
const dFit=[6.2,6.6,6.95,7.7,9.2,11.05,13.3];
const dLower=[5,5.4,5.8,6.2,6.9,7.3,7.6];
const dUpper=[7.5,7.5,7.7,8.9,11.3,14.8,19];
const gFit=[.206,.2068,.2077,.2094,.2128,.217,.222];
const gLower=[.199,.2,.202,.201,.2,.197,.19];
const gUpper=[.213,.213,.214,.218,.228,.24,.254];
const hFit=[.308,.3146,.3212,.3343,.3606,.3935,.433];
const hLower=[.292,.298,.302,.315,.333,.35,.362];
const hUpper=[.324,.328,.332,.348,.39,.447,.505];
const riskDensityX=[1,1.05,1.1,1.17,1.25,1.35,1.48,1.6,1.76,2,2.25,2.55,3,3.5,4,5,6,7,8,9,10.5];
const riskDensityY=[.6,.8,.95,1,.9,.6,.37,.3,.2,.12,.07,.02,.015,.015,.017,.012,.012,.01,.01,.01,.012];
const dDensityV=[36,24.4,19.3,14.3,12.8,10.7,9.2,6.7,4.2,1.9,1.1,0];
const dDensityW=[0,.01,.02,.04,.1,.2,.3,.5,.8,1,.95,.6];
const gDensityV=[.372,.332,.294,.283,.265,.25,.235,.22,.211,.198,.185,.175,.161,.146,.131,.12,.107];
const gDensityW=[0,.02,.05,.12,.25,.38,.6,.92,1,.95,.88,.65,.4,.22,.07,.02,0];
const hDensityV=[.599,.542,.505,.469,.433,.4,.367,.331,.302,.269,.251,.215,.178,.149,.12,.08];
const hDensityW=[0,.02,.1,.25,.37,.6,.75,.8,.95,1,.92,.55,.25,.08,.03,0];

/* ---------- survival data ---------- */
const hTmbTimes=[0,.3,.5,.8,1,1.3,1.7,2,2.3,2.8,3,3.2,3.5,3.6,3.9,4,6.6,7.2,9.1,19.4];
const hTmbSurv=[1,.97,.95,.92,.89,.875,.86,.81,.77,.76,.73,.69,.65,.61,.58,.55,.5,.435,.325,.325];
const hTmbCensor=[.4,.7,1,1.5,1.8,2,2.2,2.6,2.9,3.1,3.4,3.6,3.8,4.1,4.4,4.7,5,5.3,5.8,6,6.2,6.8,8,8.4,10.2,18.5,19.1,19.4];
const lTmbTimes=[0,.3,.5,.8,1.1,1.4,1.7,2,2.3,2.6,2.9,3.2,3.4,3.9,4.2,4.5,4.9,5.5,6,6.5,7.2,7.5,8.6,19.9];
const lTmbSurv=[1,.97,.93,.885,.86,.82,.77,.73,.69,.64,.6,.56,.52,.5,.46,.41,.37,.35,.33,.32,.29,.27,.245,.245];
const lTmbCensor=[.1,.2,.4,.6,.8,1,1.2,1.3,1.5,1.6,1.8,1.9,2.1,2.2,2.4,2.5,2.7,2.8,3,3.1,3.3,3.5,3.6,3.8,4.1,4.4,4.6,5,5.2,5.4,5.7,6,6.3,6.6,6.9,7.1,7.4,8,8.3,9,9.4,10,10.8,13,13.7,19.9];
const fHHighTimes=[0,.3,.6,.9,1.2,1.6,2,2.2,2.5,2.9,3,3.5,4,6.6,10.3];
const fHHighSurv=[1,.96,.93,.86,.83,.81,.77,.72,.68,.65,.62,.54,.49,.365,.365];
const fHHighCensor=[.4,.7,1,1.3,1.6,1.9,2.2,2.4,2.7,3,3.2,3.5,3.8,4.2,4.6,5.8,6.8,8,10.3];
const fHLowTimes=[0,.4,.7,1.8,3,3.1,3.4,3.7,7.2,9.2,19.5];
const fHLowSurv=[1,.95,.935,.88,.79,.79,.7,.63,.525,.35,.35];
const fHLowCensor=[.5,1,1.5,1.7,2.1,2.4,2.8,3.2,3.5,3.7,4,4.5,5,6.1,7.3,8.4,18.5,19.4];
const fLHighTimes=[0,.3,.6,.9,1.2,1.5,1.8,2.1,2.4,2.7,3,3.4,4,4.3,4.7,4.9,7.2,7.4,10.8];
const fLHighSurv=[.98,.93,.88,.83,.77,.71,.66,.61,.56,.49,.45,.42,.38,.36,.33,.285,.255,.21,.21];
const fLHighCensor=[.2,.4,.6,.8,1,1.2,1.4,1.6,1.8,2,2.2,2.4,2.6,3,3.2,3.6,4,4.2,4.5,5,5.3,5.7,6,7.3,7.9,8.5,9.1,10.8];
const fLLowTimes=[0,.5,1,1.5,2,2.5,3,3.4,3.8,4.1,4.4,4.9,5.5,6,6.4,8.6,19.9];
const fLLowSurv=[1,.93,.87,.82,.77,.72,.68,.62,.57,.52,.47,.42,.39,.37,.35,.3,.3];
const fLLowCensor=[.1,.3,.6,.9,1.2,1.5,1.7,2,2.3,2.6,2.9,3.2,3.5,3.9,4.3,4.6,4.9,5.2,5.5,5.9,6.2,6.6,6.9,7.2,10,13,13.7,19.9];
const survivalYTicks=[0,.25,.5,.75,1];
const yearTicks=[0,1,2,3,4,5,6,7,8,9,10,11,12,13,14,15,16,17,18,19,20];

/* ---------- drawing helpers ---------- */
const SVGNS=document.getElementById('figure').namespaceURI;
const root=document.getElementById('figure');
function mk(tag,parent,attrs){
  const el=document.createElementNS(SVGNS,tag);
  for(const k in attrs){el.setAttribute(k,attrs[k]);}
  parent.appendChild(el);
  return el;
}
function label(el,name,active){
  
  
  return el;
}
function group(parent,name){
  const g=mk('g',parent,{});
  return label(g,name);
}
function txt(parent,str,x,y,size,name,o){
  o=o||{};
  const a={x:x,y:y+size*.35,'font-size':size,fill:o.fill||'#111','text-anchor':o.anchor||'start'};
  if(o.italic){a['font-style']='italic';}
  if(o.rotate){a.x=x+size*.35;a.y=y;a.transform='rotate(-90 '+(x+size*.35)+' '+y+')';a['text-anchor']='middle';}
  const t=mk('text',parent,a);
  t.textContent=str;
  return label(t,name);
}
function line(parent,x1,y1,x2,y2,stroke,w,name,dash){
  const a={x1:x1,y1:y1,x2:x2,y2:y2,stroke:stroke,'stroke-width':w};
  if(dash){a['stroke-dasharray']=dash;}
  const l=mk('line',parent,a);
  return label(l,name);
}
function linear(d0,r0,d1,r1){return function(v){return r0+(v-d0)*(r1-r0)/(d1-d0);};}
function kebab(s){return s.toLowerCase().replace(/[^a-z0-9]+/g,'-');}
function smoothPath(pts){
  let d='M'+pts[0][0]+' '+pts[0][1];
  for(let i=0;i<pts.length-1;i++){
    const a=pts[i-1]||pts[i],b=pts[i],c=pts[i+1],e=pts[i+2]||c;
    d+='C'+(b[0]+(c[0]-a[0])/6)+' '+(b[1]+(c[1]-a[1])/6)+' '+(c[0]-(e[0]-b[0])/6)+' '+(c[1]-(e[1]-b[1])/6)+' '+c[0]+' '+c[1];
  }
  return d;
}

/* ---------- oncoplot ---------- */
const mutColors={m:'#66a23f',n:'#c9202a',f:'#4f81bd',i:'#6a3d9a',y:'#ffff99',t:'#d9683a',x:'#111111'};
const sideOrder=['m','n','f','i','y','x'];
const rowTop=105.3,rowPitch=11.6,rowH=10.4;
function parseRow(row){
  const out=[];
  if(row[0]==='@'){
    row.slice(1).split(' ').forEach(function(tok){
      const m=tok.match(/^([a-z])(\d+)(?::(\d+))?$/);
      if(m){out.push([m[1],parseInt(m[2],10),m[3]?parseInt(m[3],10):1]);}
    });
    return out;
  }
  let col=0;
  (row.match(/[.a-z]\d+/g)||[]).forEach(function(run){
    const len=parseInt(run.slice(1),10);
    if(run[0]!=='.'){out.push([run[0],col,len]);}
    col+=len;
  });
  return out;
}
function drawOncoplot(c){
  const g=group(root,c.name);
  const colW=(c.x1-c.x0)/129;
  const yT=linear(0,99.7,c.tmbMax,46);
  const tmbG=group(g,'tmb-bar-chart');
  c.tmb.forEach(function(v,i){
    const x=c.x0+i*colW;
    const b=mk('rect',tmbG,{x:x,y:yT(v),width:colW,height:99.7-yT(v),fill:'#69a342'});
    label(b,'tmb-bar');
    const cap=mk('rect',tmbG,{x:x,y:yT(v)-1,width:colW,height:1.5,fill:'#e8505a'});
    label(cap,'tmb-bar-nonsense-cap');
  });
  const blue=mk('rect',tmbG,{x:c.x0,y:98.7,width:c.blueW,height:1,fill:'#4f81bd'});
  label(blue,'tmb-frameshift-base');
  line(g,c.axisX,46,c.axisX,99.7,'#555',.9,'tmb-axis');
  line(g,c.axisX-5,46,c.axisX,46,'#555',.9,'tmb-tick-top');
  line(g,c.axisX-5,99.7,c.axisX,99.7,'#555',.9,'tmb-tick-bottom');
  txt(g,String(c.tmbMax),c.axisX-9,46,7,'tmb-max-label',{anchor:'end',fill:'#333'});
  txt(g,'0',c.axisX-9,99.7,7,'tmb-zero-label',{anchor:'end',fill:'#333'});
  txt(g,'TMB',c.axisX-20,72.7,6.5,'tmb-axis-title',{rotate:true,fill:'#333'});
  const sideX=linear(0,c.sideX0,c.sideMax,c.sideX1);
  geneNamesA.forEach(function(gene,r){
    const y=rowTop+r*rowPitch;
    const rowG=group(g,'gene-row-'+kebab(gene));
    const bg=mk('rect',rowG,{x:c.x0,y:y,width:c.x1-c.x0,height:rowH,fill:'#d5d5d5'});
    label(bg,'gene-row-background');
    parseRow(c.rows[r]).forEach(function(e){
      if(e[1]<129){
        const cell=mk('rect',rowG,{x:c.x0+e[1]*colW,y:y,width:Math.min(e[2],129-e[1])*colW,height:rowH,fill:mutColors[e[0]]});
        label(cell,'mutation-cell');
      }
    });
    txt(rowG,gene,c.geneX,y+rowH/2,9.4,'gene-label',{anchor:'end',italic:true,fill:'#222'});
    txt(rowG,c.percent[r]+'%',c.pctX,y+rowH/2,9.5,'gene-percent',{fill:'#222'});
    let acc=0;
    c.side[r].forEach(function(n,k){
      if(n>0){
        const seg=mk('rect',rowG,{x:sideX(acc),y:y,width:sideX(acc+n)-sideX(acc),height:rowH,fill:k===0?'#5f9c38':mutColors[sideOrder[k]]});
        label(seg,'sample-count-segment');
      }
      acc+=n;
    });
  });
  line(g,c.sideX0,102,c.sideX1,102,'#444',.8,'sample-axis');
  line(g,c.sideX0,98,c.sideX0,102,'#444',.8,'sample-axis-tick');
  line(g,c.sideX1,98,c.sideX1,102,'#444',.8,'sample-axis-tick');
  txt(g,'0',c.sideX0,88.7,7,'sample-axis-min',{anchor:'middle',fill:'#333'});
  txt(g,String(c.sideMax),c.sideX1,88.7,7,'sample-axis-max',{anchor:'middle',fill:'#333'});
  txt(g,'No. of samples',(c.sideX0+c.sideX1)/2,96,6.7,'sample-axis-title',{anchor:'middle',fill:'#333'});
  const risk=mk('rect',g,{x:c.x0,y:341,width:c.x1-c.x0,height:20,fill:c.riskColor});
  label(risk,'risk-annotation-bar');
  txt(g,'Risk',c.x1+4.5,351,9.5,'risk-annotation-label',{fill:'#222'});
  c.legend.forEach(function(e){
    const s=mk('rect',g,{x:e[0]-2.2,y:e[1]-2.2,width:4.4,height:4.4,fill:e[3]});
    label(s,'legend-swatch');
    txt(g,e[2],e[0]+8.5,e[1],9.6,'legend-entry',{fill:'#222'});
  });
  txt(g,'Risk',c.riskLegendX,372,9.6,'risk-legend-title',{fill:'#222'});
  [['high',386,'#e00000'],['low',397,'#0000ff']].forEach(function(e){
    const s=mk('rect',g,{x:c.riskLegendX+6,y:e[1]-2.2,width:4.4,height:4.4,fill:e[2]});
    label(s,'risk-legend-swatch');
    txt(g,e[0],c.riskLegendX+16.4,e[1],9.6,'risk-legend-entry',{fill:'#222'});
  });
}
drawOncoplot({name:'oncoplot-a',x0:47.7,x1:305.7,axisX:43.3,geneX:43.7,pctX:306.7,sideX0:333.3,sideX1:407.3,sideMax:122,tmbMax:1422,tmb:tmbA,blueW:60,rows:mutationRowsA,percent:genePercentA,side:sideCountsA,riskColor:'#e00000',riskLegendX:229.3,
legend:[[14.7,372,'Missense_Mutation','#5f9c38'],[14.7,383,'Nonsense_Mutation','#c9202a'],[14.7,394,'Frame_Shift_Del','#4f81bd'],[116.3,372,'Frame_Shift_Ins','#6a3d9a'],[116.3,383,'In_Frame_Del','#ffff99'],[116.3,394,'Multi_Hit','#111']]});
drawOncoplot({name:'oncoplot-b',x0:496,x1:754.3,axisX:491.7,geneX:492.3,pctX:755,sideX0:781.7,sideX1:855.7,sideMax:106,tmbMax:1361,tmb:tmbB,blueW:180,rows:mutationRowsB,percent:genePercentB,side:sideCountsB,riskColor:'#0000f0',riskLegendX:695,
legend:[[463.3,372,'Missense_Mutation','#5f9c38'],[463.3,383,'Nonsense_Mutation','#c9202a'],[463.3,394,'Frame_Shift_Del','#4f81bd'],[463.3,405,'Frame_Shift_Ins','#6a3d9a'],[574,372,'In_Frame_Del','#ffff99'],[574,383,'Translation_Start_Site','#d9683a'],[574,394,'Multi_Hit','#111']]});

/* ---------- box + jitter panels ---------- */
const riskBlue='#0000ee',riskRed='#dd0000';
function drawBoxKey(g,cx,y,color){
  line(g,cx,y-7.5,cx,y+7.5,color,1.3,'legend-key-whisker');
  const r=mk('rect',g,{x:cx-8,y:y-5,width:16,height:10,fill:'#fff',stroke:color,'stroke-width':1.3});
  label(r,'legend-key-box');
  const d=mk('circle',g,{cx:cx,cy:y,r:2.5,fill:color});
  label(d,'legend-key-dot');
}
function drawBoxPanel(c){
  const g=group(root,c.name);
  const y=linear(c.t0,c.p0,c.t1,c.p1);
  txt(g,c.title,c.titleX,(c.top+c.bottom)/2+(c.titleShift||0),12.7,'y-axis-title',{rotate:true});
  line(g,c.axisX,c.top,c.axisX,c.bottom,'#111',1.4,'y-axis');
  line(g,c.axisX-.7,c.bottom,c.xEnd,c.bottom,'#111',1.6,'x-axis');
  c.ticks.forEach(function(t){
    line(g,c.axisX-4,y(t),c.axisX,y(t),'#222',1,'y-tick');
    txt(g,String(t),c.axisX-7,y(t),13.5,'y-tick-label',{anchor:'end'});
  });
  const series=[[c.cats[0],c.lowVals,c.lowOut,c.lowBox,riskBlue,'low-risk'],[c.cats[1],c.highVals,c.highOut,c.highBox,riskRed,'high-risk']];
  series.forEach(function(s,si){
    const cx=s[0];
    const sg=group(g,s[5]+'-group');
    const sp=si===0?0:37;
    s[1].forEach(function(v,i){
      const pt=mk('circle',sg,{cx:cx+jitterFractions[(i+sp)%jitterFractions.length]*35,cy:y(v),r:c.r||2.7,fill:s[4]});
      
      
    });
    s[2].forEach(function(p){
      const pt=mk('circle',sg,{cx:cx+p[0]*35,cy:y(p[1]),r:c.r||2.7,fill:s[4]});
      
      
    });
    const b=s[3];
    line(sg,cx,y(b[0]),cx,y(b[4]),s[4],1.4,s[5]+'-whisker');
    const r=mk('rect',sg,{x:cx-c.half,y:y(b[3]),width:c.half*2,height:y(b[1])-y(b[3]),fill:'none',stroke:s[4],'stroke-width':1.4});
    label(r,s[5]+'-box');
    line(sg,cx-c.half,y(b[2]),cx+c.half,y(b[2]),s[4],2.4,s[5]+'-median');
    line(g,cx,c.bottom,cx,c.bottom+3.5,'#222',1,'x-tick');
    txt(g,boxCategories[si],cx,c.bottom+10.7,13.7,'x-tick-label',{anchor:'middle'});
  });
  const br=mk('path',g,{d:'M'+c.cats[0]+' '+(c.bracketY+7)+'V'+c.bracketY+'H'+c.cats[1]+'V'+(c.bracketY+7),fill:'none',stroke:'#444','stroke-width':1});
  label(br,'significance-bracket');
  txt(g,c.p,c.pX,c.bracketY-6,12,'p-value-label',{anchor:'middle'});
  drawBoxKey(g,c.leg[0],c.legY,riskBlue);
  txt(g,boxCategories[0],c.leg[1],c.legY,11.3,'legend-low-risk',{});
  drawBoxKey(g,c.leg[2],c.legY,riskRed);
  txt(g,boxCategories[1],c.leg[3],c.legY,11.3,'legend-high-risk',{});
}
drawBoxPanel({name:'panel-c-tmb-box',title:'Tumor tmbation burden',titleX:920.6,axisX:954,top:76,bottom:331,xEnd:1315,t0:0,p0:320,t1:30,p1:135,ticks:cTicks,cats:[1052,1217],half:58,lowVals:cLowValues,lowOut:cLowOutliers,highVals:cHighValues,highOut:cHighOutliers,lowBox:cLowBox,highBox:cHighBox,bracketY:87.5,p:'1.7e\u221206',pX:1135,legY:47.5,leg:[1071,1087.4,1150,1167],r:2.9,titleShift:0});
drawBoxPanel({name:'panel-i-epcam-box',title:'EPCAM expression',titleX:14,axisX:47,top:904,bottom:1159.3,xEnd:409,t0:12,p0:908,t1:4,p1:1139,ticks:iTicks,cats:[145.8,310.6],half:57.7,lowVals:iLowValues,lowOut:iLowOutliers,highVals:iHighValues,highOut:iHighOutliers,lowBox:iLowBox,highBox:iHighBox,bracketY:915.3,p:'0.00024',pX:228,legY:875.7,leg:[164,180.8,243.4,260]});
drawBoxPanel({name:'panel-j-pms2-box',title:'PMS2 expression',titleX:462,axisX:488,top:904,bottom:1159.3,xEnd:857.6,t0:6,p0:908,t1:2,p1:1110.7,ticks:jTicks,cats:[588.4,756.6],half:59.3,lowVals:jLowValues,lowOut:jLowOutliers,highVals:jHighValues,highOut:jHighOutliers,lowBox:jLowBox,highBox:jHighBox,bracketY:915.3,p:'0.00015',pX:672,legY:875.7,leg:[609,625.7,688.3,705]});
drawBoxPanel({name:'panel-k-msh2-box',title:'MSH2 expression',titleX:911.7,axisX:936.3,top:904,bottom:1159.3,xEnd:1306,t0:6,p0:930.7,t1:2,p1:1127,ticks:kTicks,cats:[1037,1205.3],half:59,lowVals:kLowValues,lowOut:kLowOutliers,highVals:kHighValues,highOut:kHighOutliers,lowBox:kLowBox,highBox:kHighBox,bracketY:915.3,p:'7.7e\u221206',pX:1121,legY:875.7,leg:[1057,1074,1136.7,1153.7]});
drawBoxPanel({name:'panel-l-msh6-box',title:'MSH6 expression',titleX:1360,axisX:1384.7,top:904,bottom:1159.3,xEnd:1754.3,t0:7,p0:913,t1:2,p1:1136.3,ticks:lTicks,cats:[1485.3,1653.7],half:59,lowVals:lLowValues,lowOut:lLowOutliers,highVals:lHighValues,highOut:lHighOutliers,lowBox:lLowBox,highBox:lHighBox,bracketY:915.3,p:'3.4e\u221205',pX:1569.3,legY:875.7,leg:[1505.7,1522.7,1585,1602]});

/* ---------- scatter + marginal density panels ---------- */
function drawScatter(c){
  const g=group(root,c.name);
  const x=linear(2.5,c.x25,10,c.x10);
  const y=linear(c.yt0,c.yp0,c.yt1,c.yp1);
  const bg=mk('rect',g,{x:c.left,y:c.top,width:c.right-c.left,height:c.bottom-c.top,fill:'#fff'});
  label(bg,'plot-background');
  [1.25,3.75,6.25,8.75].forEach(function(v){line(g,x(v),c.top,x(v),c.bottom,'#f2f2f2',.7,'minor-gridline');});
  [2.5,5,7.5,10].forEach(function(v){line(g,x(v),c.top,x(v),c.bottom,'#ebebeb',1.2,'major-gridline');});
  c.minorY.forEach(function(v){line(g,c.left,y(v),c.right,y(v),'#f2f2f2',.7,'minor-gridline');});
  c.ticks.forEach(function(v){line(g,c.left,y(v),c.right,y(v),'#ebebeb',1.2,'major-gridline');});
  const pts=group(g,'scatter-points');
  clusterRisk.forEach(function(rs,i){
    if(i<c.cluster.length){
      const p=mk('circle',pts,{cx:x(rs),cy:y(c.cluster[i]),r:2.7,fill:'#000'});
      
      
    }
  });
  c.outX.forEach(function(rs,i){
    const p=mk('circle',pts,{cx:x(rs),cy:y(c.outY[i]),r:2.7,fill:'#000'});
    
    
  });
  let band='';
  fitRisk.forEach(function(v,i){band+=(i?'L':'M')+x(v)+' '+y(c.up[i]);});
  for(let i=fitRisk.length-1;i>=0;i--){band+='L'+x(fitRisk[i])+' '+y(c.lo[i]);}
  const ribbon=mk('path',g,{d:band+'Z',fill:'#999','fill-opacity':.42});
  label(ribbon,'confidence-ribbon');
  let fit='';
  fitRisk.forEach(function(v,i){fit+=(i?'L':'M')+x(v)+' '+y(c.fit[i]);});
  const fl=mk('path',g,{d:fit,fill:'none',stroke:'#3f68f0','stroke-width':2});
  label(fl,'regression-line');
  const border=mk('rect',g,{x:c.left,y:c.top,width:c.right-c.left,height:c.bottom-c.top,fill:'none',stroke:'#7f7f7f','stroke-width':1.5});
  label(border,'plot-border');
  [2.5,5,7.5,10].forEach(function(v){
    line(g,x(v),c.bottom,x(v),c.bottom+3,'#555',.8,'x-tick');
    txt(g,v===10?'10.0':v.toFixed(1),x(v),c.bottom+8.5,9.6,'x-tick-label',{anchor:'middle',fill:'#4d4d4d'});
  });
  c.ticks.forEach(function(v){
    line(g,c.left-3,y(v),c.left,y(v),'#555',.8,'y-tick');
    txt(g,c.fmt(v),c.left-6,y(v),9.6,'y-tick-label',{anchor:'end',fill:'#4d4d4d'});
  });
  txt(g,'Risk score',(c.left+c.right)/2,c.bottom+19.5,13.4,'x-axis-title',{anchor:'middle'});
  txt(g,c.title,c.titleX,c.titleY,c.titleSize,'y-axis-title',{rotate:true});
  const st=mk('text',g,{x:c.statX,y:c.statY,'font-size':12.6,fill:'#111'});
  label(st,'correlation-label');
  const s1=mk('tspan',st,{'font-style':'italic'});s1.textContent='R';
  const s2=mk('tspan',st,{});s2.textContent=' = '+c.r+', ';
  const s3=mk('tspan',st,{'font-style':'italic'});s3.textContent='p';
  const s4=mk('tspan',st,{});s4.textContent=' = '+c.p;
  /* top marginal density */
  const base=c.dTopBase,h=c.dTopH;
  const topPts=riskDensityX.map(function(v,i){return [x(v),base-riskDensityY[i]*h];});
  const topLine=smoothPath(topPts);
  const tf=mk('path',g,{d:topLine+'L'+x(riskDensityX[riskDensityX.length-1])+' '+base+'L'+x(riskDensityX[0])+' '+base+'Z',fill:'#eba425'});
  label(tf,'risk-density-fill');
  const tl=mk('path',g,{d:topLine,fill:'none',stroke:'#111','stroke-width':1.1});
  label(tl,'risk-density-outline');
  /* right marginal density */
  const rightPts=c.dV.map(function(v,i){return [c.dRightBase+c.dW[i]*c.dRightW,y(v)];});
  const rl=smoothPath(rightPts);
  const rf=mk('path',g,{d:rl+'L'+c.dRightBase+' '+y(c.dV[c.dV.length-1])+'L'+c.dRightBase+' '+y(c.dV[0])+'Z',fill:'#0000ff'});
  label(rf,'value-density-fill');
  const ro=mk('path',g,{d:rl,fill:'none',stroke:'#111','stroke-width':1.1});
  label(ro,'value-density-outline');
}
drawScatter({name:'panel-d-tmb-scatter',left:1395.6,right:1709,top:78,bottom:339,x25:1454.5,x10:1681,yt0:0,yp0:327,yt1:30,yp1:130,ticks:[0,10,20,30],minorY:[5,15,25,35],fmt:function(v){return String(v);},cluster:dClusterY,outX:dOutX,outY:dOutY,fit:dFit,lo:dLower,up:dUpper,title:'Tumor tmbation burden',titleX:1370,titleY:208,titleSize:10.4,statX:1410.6,statY:101,r:'0.26',p:'4e\u221209',dTopBase:75.4,dTopH:48,dRightBase:1711.5,dRightW:57.5,dV:dDensityV,dW:dDensityW});
drawScatter({name:'panel-g-dnass-scatter',left:950.3,right:1260.7,top:491.7,bottom:752.7,x25:1009,x10:1233,yt0:.3,yp0:568.3,yt1:.1,yp1:747.7,ticks:[.1,.2,.3],minorY:[.15,.25,.35],fmt:function(v){return v.toFixed(1);},cluster:gClusterY,outX:gOutX,outY:gOutY,fit:gFit,lo:gLower,up:gUpper,title:'DNAss',titleX:921,titleY:622,titleSize:10.8,statX:964.3,statY:516,r:'0.18',p:'0.00015',dTopBase:489.3,dTopH:47.6,dRightBase:1263.7,dRightW:57,dV:gDensityV,dW:gDensityW});
drawScatter({name:'panel-h-rnass-scatter',left:1398.7,right:1709.3,top:491.7,bottom:752.7,x25:1457.3,x10:1681.3,yt0:.6,yp0:503.3,yt1:.2,yp1:686.7,ticks:[.2,.4,.6],minorY:[.1,.3,.5],fmt:function(v){return v.toFixed(1);},cluster:hClusterY,outX:hOutX,outY:hOutY,fit:hFit,lo:hLower,up:hUpper,title:'RNAss',titleX:1370,titleY:622,titleSize:10.8,statX:1413,statY:516,r:'0.23',p:'1.3e\u221206',dTopBase:489.3,dTopH:47.6,dRightBase:1712.3,dRightW:57,dV:hDensityV,dW:hDensityW});

/* ---------- survival panels ---------- */
function survivalAt(times,surv,t){
  let s=surv[0];
  for(let i=0;i<times.length;i++){if(times[i]<=t){s=surv[i];}}
  return s;
}
function drawSurvival(c){
  const g=group(root,c.name);
  const x=linear(0,c.x0,20,c.x20);
  const y=linear(0,755,1,481.7);
  txt(g,'Survival probability',c.titleX,618,13.9,'y-axis-title',{rotate:true});
  line(g,c.axisX,468,c.axisX,769,'#111',1.4,'y-axis');
  line(g,c.axisX-.7,769,c.xEnd,769,'#111',1.6,'x-axis');
  survivalYTicks.forEach(function(t){
    line(g,c.axisX-4,y(t),c.axisX,y(t),'#222',1,'y-tick');
    txt(g,t.toFixed(2),c.axisX-6.5,y(t),12.3,'y-tick-label',{anchor:'end'});
  });
  yearTicks.forEach(function(t){
    line(g,x(t),769,x(t),772.5,'#222',1,'x-tick');
    txt(g,String(t),x(t),779,12.3,'x-tick-label',{anchor:'middle'});
  });
  txt(g,'Time(years)',c.x0+161.5,794,15,'x-axis-title',{anchor:'middle'});
  c.curves.forEach(function(k){
    let d='';
    k.t.forEach(function(t,i){
      d+=i?('H'+x(t)+'V'+y(k.s[i])):('M'+x(t)+' '+y(k.s[i]));
    });
    const p=mk('path',g,{d:d,fill:'none',stroke:k.color,'stroke-width':2.3});
    label(p,'survival-curve-'+kebab(k.name));
    k.c.forEach(function(t){
      const v=survivalAt(k.t,k.s,t);
      const m=mk('path',g,{d:'M'+x(t)+' '+(y(v)-3.6)+'v7.2M'+(x(t)-2.6)+' '+y(v)+'h5.2',stroke:k.color,'stroke-width':1.1,fill:'none'});
      
      
    });
  });
  line(g,x(0),y(.5),x(c.medians[c.medians.length-1]),y(.5),'#111',1.2,'median-reference-line','4.5 3.5');
  c.medians.forEach(function(t){line(g,x(t),y(.5),x(t),y(0),'#111',1.2,'median-drop-line','4.5 3.5');});
  txt(g,c.p,c.pX,700,17.6,'log-rank-p-value',{});
  c.curves.forEach(function(k,i){
    const ly=c.legY[i];
    line(g,c.legX-7,ly,c.legX+7,ly,k.color,2.3,'legend-key-line');
    line(g,c.legX,ly-3.6,c.legX,ly+3.6,k.color,1.2,'legend-key-censor');
    txt(g,k.name,c.legX+14,ly,11.3,'legend-entry',{});
  });
}
drawSurvival({name:'panel-e-survival',x0:71,x20:393.8,axisX:55.7,xEnd:409,titleX:14,medians:[3.9,6.6],p:'p=0.026',pX:78,legX:318.6,legY:[526.7,544],
curves:[{name:'H\u2212TMB',color:'#dd0000',t:hTmbTimes,s:hTmbSurv,c:hTmbCensor},{name:'L\u2212TMB',color:'#3f6df0',t:lTmbTimes,s:lTmbSurv,c:lTmbCensor}]});
drawSurvival({name:'panel-f-survival',x0:519.5,x20:842,axisX:503.4,xEnd:858,titleX:462,medians:[2.75,4,4.2,9.2],p:'p<0.001',pX:526.4,legX:744,legY:[509.3,526.7,544,561.3],
curves:[{name:'H\u2212TMB+high risk',color:'#dd0000',t:fHHighTimes,s:fHHighSurv,c:fHHighCensor},{name:'H\u2212TMB+low risk',color:'#3f6df0',t:fHLowTimes,s:fHLowSurv,c:fHLowCensor},{name:'L\u2212TMB+high risk',color:'#5d4a90',t:fLHighTimes,s:fLHighSurv,c:fLHighCensor},{name:'L\u2212TMB+low risk',color:'#9ccb66',t:fLLowTimes,s:fLLowSurv,c:fLLowCensor}]});
</script>
</body>
</html>
